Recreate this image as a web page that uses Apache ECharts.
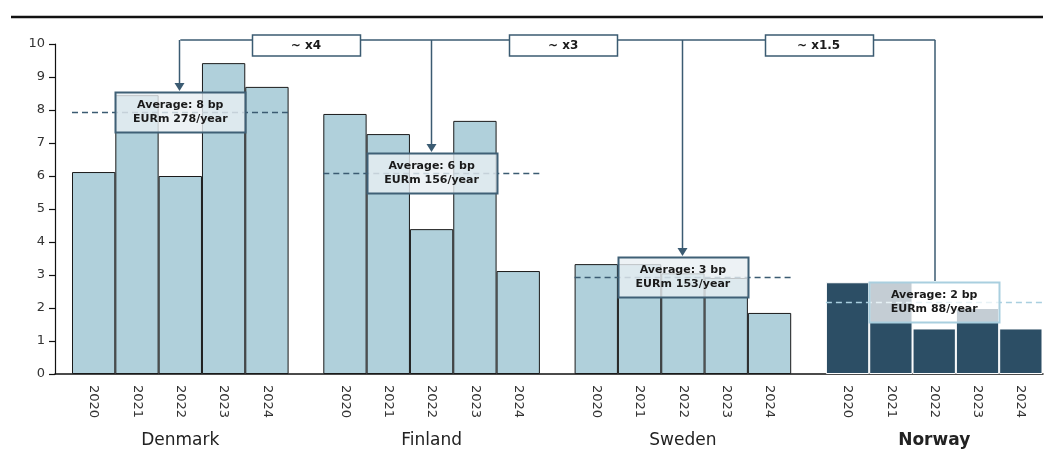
<!DOCTYPE html>
<html>
<head>
<meta charset="utf-8">
<script src="https://cdn.jsdelivr.net/npm/echarts@6/dist/echarts.min.js"></script>
<style>
  html, body { margin: 0; padding: 0; background: #ffffff; }
  #chart { width: 1054px; height: 457px; }
</style>
</head>
<body>
<div id="chart"></div>
<script>
// Annual cost in basis points per country, 2020-2024
const countries = ['Denmark', 'Finland', 'Sweden', 'Norway'];
const years = ['2020', '2021', '2022', '2023', '2024'];
const denmark = [6.12, 8.45, 6.0, 9.42, 8.7];
const finland = [7.88, 7.27, 4.39, 7.67, 3.12];
const sweden = [3.33, 3.33, 3.05, 2.91, 1.85];
const norway = [2.78, 2.80, 1.38, 2.0, 1.38];
const averageBp = [7.94, 6.09, 2.94, 2.18];
const averageLabelBp = [8, 6, 3, 2];
const eurmPerYear = [278, 156, 153, 88];
const multiples = ['~ x4', '~ x3', '~ x1.5'];
const yTicks = [0, 1, 2, 3, 4, 5, 6, 7, 8, 9, 10];

const values = [denmark, finland, sweden, norway];

const FONT = 'DejaVu Sans';
const LIGHT = '#b0d0db';
const DARK = '#2c4e65';
const LINE = '#3b5b72';

const chart = echarts.init(document.getElementById('chart'), null, { renderer: 'canvas' });

const GRID_TOP = 44, GRID_BOTTOM = 83;
const GROUP_LEFT = 72, GROUP_PITCH = 251.3, GROUP_WIDTH = 216.6;
const barW = GROUP_WIDTH / years.length;

const grids = [{ left: 55, right: 11, top: GRID_TOP, bottom: GRID_BOTTOM }];
const xAxes = [{
  type: 'value', gridIndex: 0, min: 0, max: 1,
  axisLine: { show: true, onZero: false, lineStyle: { color: '#111', width: 1.5 } },
  axisTick: { show: false }, axisLabel: { show: false }, splitLine: { show: false }
}];
const yAxes = [{
  type: 'value', gridIndex: 0, min: yTicks[0], max: yTicks[yTicks.length - 1], interval: 1,
  axisLine: { show: true, lineStyle: { color: '#111', width: 1.2 } },
  axisTick: { show: true, length: 6, lineStyle: { color: '#111', width: 1.2 } },
  axisLabel: { color: '#333', fontSize: 13, margin: 10, fontFamily: FONT },
  splitLine: { show: false }
}];
const series = [];

countries.forEach((name, g) => {
  const gi = g + 1;
  const isNorway = name === 'Norway';
  grids.push({ left: GROUP_LEFT + GROUP_PITCH * g, width: GROUP_WIDTH, top: GRID_TOP, bottom: GRID_BOTTOM });
  xAxes.push({
    type: 'category', gridIndex: gi, data: years,
    axisLine: { show: false }, axisTick: { show: false },
    axisLabel: { rotate: -90, margin: 11, fontSize: 13, color: '#333', fontFamily: FONT },
    name: name, nameLocation: 'middle', nameGap: 58,
    nameTextStyle: { fontSize: 17, color: '#222', fontFamily: FONT, fontWeight: isNorway ? 'bold' : 'normal' }
  });
  yAxes.push({ type: 'value', gridIndex: gi, min: 0, max: 10, show: false });

  series.push({
    type: 'bar', xAxisIndex: gi, yAxisIndex: gi,
    data: values[g], barCategoryGap: '0%', z: 2,
    itemStyle: {
      color: isNorway ? DARK : LIGHT,
      borderColor: isNorway ? '#ffffff' : '#1a1a1a',
      borderWidth: 1
    },
    markLine: {
      silent: true, symbol: 'none', z: 3,
      label: { show: false },
      lineStyle: { color: isNorway ? '#a9cfdf' : LINE, type: [6, 4], width: 1.3 },
      data: [{ yAxis: averageBp[g] }]
    }
  });
});

chart.setOption({
  animation: false,
  backgroundColor: '#ffffff',
  textStyle: { fontFamily: FONT },
  grid: grids, xAxis: xAxes, yAxis: yAxes, series: series
});

// Average boxes plus the comparison bracket with arrows down to them
function drawAnnotations() {
  const topY = chart.convertToPixel({ gridIndex: 0 }, [0, 10])[1] - 4;
  const pts = countries.map((c, g) =>
    chart.convertToPixel({ seriesIndex: g }, [2, averageBp[g]]));
  const boxW = barW * 3, boxH = 40;
  const gfx = [];
  // top rule
  gfx.push({ type: 'line', shape: { x1: 11, y1: 17, x2: 1043, y2: 17 }, style: { stroke: '#111', lineWidth: 2.5 }, z: 20 });

  pts.forEach((p, g) => {
    const isNorway = countries[g] === 'Norway';
    gfx.push({
      type: 'rect', z: 15,
      shape: { x: Math.round(p[0] - boxW / 2) + 0.5, y: Math.round(p[1] - boxH / 2) + 0.5, width: Math.round(boxW), height: boxH },
      style: {
        fill: isNorway ? 'rgba(255,255,255,0.72)' : 'rgba(232,239,243,0.8)',
        stroke: isNorway ? '#a9cfdf' : '#3f6076', lineWidth: 2
      }
    });
    gfx.push({
      type: 'text', z: 16, x: p[0], y: p[1] + 0.5,
      style: {
        text: 'Average: ' + averageLabelBp[g] + ' bp\nEURm ' + eurmPerYear[g] + '/year',
        font: 'bold 11px "DejaVu Sans"', lineHeight: 14, fill: '#1a1a1a',
        align: 'center', verticalAlign: 'middle'
      }
    });
  });

  // horizontal span
  gfx.push({ type: 'line', shape: { x1: pts[0][0], y1: topY, x2: pts[3][0] + 1, y2: topY },
    style: { stroke: LINE, lineWidth: 1.5 }, z: 20 });
  pts.forEach((p, g) => {
    const boxTop = Math.round(p[1] - boxH / 2);
    const x = Math.round(p[0]) - 0.5 + (g === 3 ? 1.5 : 0);
    const withArrow = g < 3;
    const endY = withArrow ? boxTop - 8 : boxTop - 1;
    gfx.push({ type: 'line', shape: { x1: x, y1: topY, x2: x, y2: endY }, style: { stroke: LINE, lineWidth: 1.5 }, z: 20 });
    if (withArrow) {
      gfx.push({ type: 'polygon', shape: { points: [[x - 5, boxTop - 9], [x + 5, boxTop - 9], [x, boxTop - 1]] },
        style: { fill: LINE }, z: 21 });
    }
  });
  const nudges = [0, 6, 10];
  multiples.forEach((m, i) => {
    const cx = (pts[i][0] + pts[i + 1][0]) / 2 + nudges[i];
    gfx.push({
      type: 'rect', shape: { x: Math.round(cx - 54) + 0.5, y: topY - 5, width: 108, height: 21 },
      style: { fill: '#ffffff', stroke: LINE, lineWidth: 1.5 }, z: 22
    });
    gfx.push({
      type: 'text', x: cx, y: topY + 5.5, z: 23,
      style: { text: m, fill: '#1a1a1a', font: 'bold 12px "DejaVu Sans"', align: 'center', verticalAlign: 'middle' }
    });
  });
  chart.setOption({ graphic: gfx });
}
drawAnnotations();
</script>
</body>
</html>
